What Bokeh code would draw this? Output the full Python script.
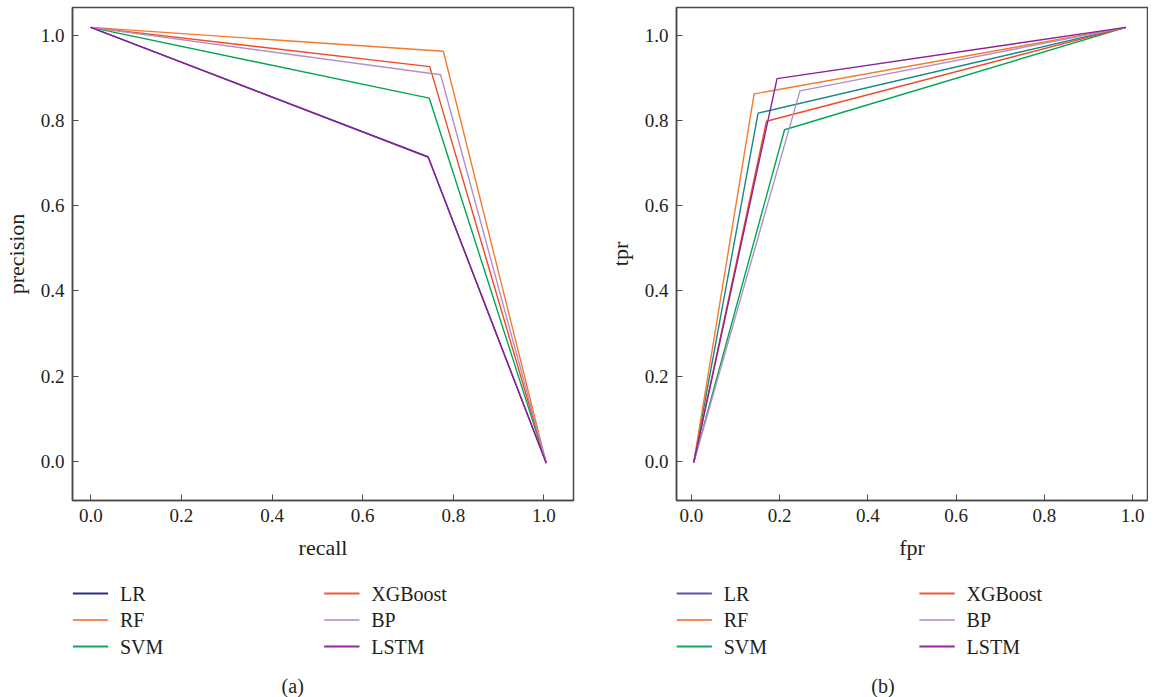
from bokeh.plotting import figure
from bokeh.models import Range1d, FixedTicker, PrintfTickFormatter
from bokeh.core.properties import value
from bokeh.layouts import row, column
from bokeh.embed import file_html
from bokeh.resources import INLINE

models = ["LR", "RF", "SVM", "XGBoost", "BP", "LSTM"]

# panel (a): precision-recall, three points per model (start, middle, end)
recall_start, precision_start = 0.0, 1.018
recall_mid = [0.744, 0.778, 0.747, 0.748, 0.772, 0.745]
precision_mid = [0.715, 0.962, 0.852, 0.926, 0.907, 0.713]
recall_end, precision_end = 1.005, -0.004

# panel (b): ROC, three points per model
fpr_start, tpr_start = 0.005, -0.003
fpr_mid = [0.151, 0.142, 0.211, 0.170, 0.246, 0.194]
tpr_mid = [0.817, 0.862, 0.778, 0.798, 0.869, 0.898]
fpr_end, tpr_end = 0.985, 1.018

tick_values = [0.0, 0.2, 0.4, 0.6, 0.8, 1.0]

colors_a = ["#33308f", "#f47a2c", "#00a651", "#ef4a24", "#b38fca", "#8b2196"]
colors_b = ["#14878b", "#f47a2c", "#00a651", "#ef4a24", "#b38fca", "#8b2196"]
legend_colors_a = ["#2c2c86", "#f58c55", "#10a858", "#ee5a3c", "#c4a6d6", "#93289c"]
legend_colors_b = ["#5e52a6", "#f58c55", "#10a858", "#ee5a3c", "#c4a6d6", "#93289c"]

FONT = "Liberation Serif"
TEXT = "#231f20"
AXC = "#4a4a4a"
PLOT_H = 565
LEG_H = 132


def make_panel(xs_start, ys_start, xs_mid, ys_mid, xs_end, ys_end, colors,
               xlabel, ylabel, width, border_left, border_right, xr):
    p = figure(width=width, height=PLOT_H, output_backend="svg", toolbar_location=None,
               x_range=Range1d(*xr), y_range=Range1d(-0.0917, 1.0647),
               min_border_left=border_left, min_border_right=border_right,
               min_border_top=7, min_border_bottom=PLOT_H - 7 - 493)
    p.grid.visible = False
    p.outline_line_color = AXC
    p.outline_line_width = 1.5
    for ax in (p.xaxis[0], p.yaxis[0]):
        ax.ticker = FixedTicker(ticks=tick_values)
        ax.formatter = PrintfTickFormatter(format="%.1f")
        ax.major_tick_in = 6
        ax.major_tick_out = 0
        ax.minor_tick_line_color = None
        ax.axis_line_color = AXC
        ax.axis_line_width = 1.5
        ax.major_tick_line_color = AXC
        ax.major_label_text_font = FONT
        ax.major_label_text_font_size = "19px"
        ax.major_label_text_color = TEXT
        ax.axis_label_text_font = FONT
        ax.axis_label_text_font_size = "22px"
        ax.axis_label_text_font_style = "normal"
        ax.axis_label_text_color = TEXT
    p.xaxis.axis_label = xlabel
    p.yaxis.axis_label = ylabel
    p.xaxis.major_label_standoff = 8
    p.xaxis.axis_label_standoff = 10
    p.yaxis.major_label_standoff = 8
    p.yaxis.axis_label_standoff = 9

    for i, m in enumerate(models):
        p.line([xs_start, xs_mid[i], xs_end], [ys_start, ys_mid[i], ys_end],
               line_color=colors[i], line_width=1.4)
    return p


def make_legend(leg_colors, caption, width, xr, col_x, cx):
    # legend strip below each panel; its frame lines up with the panel frame,
    # and its x range is given in page pixels
    f = figure(width=width, height=LEG_H, output_backend="svg", toolbar_location=None,
               x_range=Range1d(*xr), y_range=Range1d(0, LEG_H),
               min_border=0, outline_line_color=None)
    f.axis.visible = False
    f.grid.visible = False
    row_y = [104, 77.5, 51]
    gx0, gx1, tx, ty = [], [], [], []
    for i, m in enumerate(models):
        c, r = divmod(i, 3)
        gx0.append(col_x[c])
        gx1.append(col_x[c] + 36)
        tx.append(col_x[c] + 48)
        ty.append(row_y[r])
    f.segment(x0=gx0, y0=ty, x1=gx1, y1=ty, line_color=leg_colors, line_width=2)
    f.text(x=tx, y=ty, text=models, text_font=value(FONT), text_font_size="20px",
           text_color=TEXT, text_baseline="middle", text_align="left")
    f.text(x=[cx], y=[12], text=[caption], text_font=value(FONT), text_font_size="20px",
           text_color=TEXT, text_baseline="middle", text_align="center")
    return f


pa = make_panel(recall_start, precision_start, recall_mid, precision_mid,
                recall_end, precision_end, colors_a,
                "recall", "precision", 604, 63, 31, (-0.0403, 1.0652))
pb = make_panel(fpr_start, tpr_start, fpr_mid, tpr_mid, fpr_end, tpr_end,
                colors_b, "fpr", "tpr", 544, 64, 1, (-0.034, 1.034))
la = make_legend(legend_colors_a, "(a)", 604, (70.7, 581), [71, 327], 295)
lb = make_legend(legend_colors_b, "(b)", 544, (676, 1155), [676, 923], 886)

layout = row(column(pa, la), column(pb, lb))
open("out.html", "w").write(file_html(layout, INLINE))
